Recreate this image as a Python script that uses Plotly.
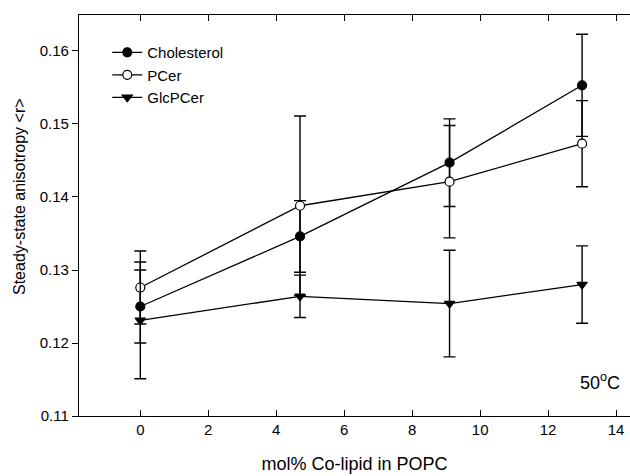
import plotly.graph_objects as go

# ---- data ----
x_vals = [0, 4.7, 9.1, 13]

chol_y = [0.1250, 0.1346, 0.1447, 0.1553]
chol_err = [0.0050, 0.0049, 0.0060, 0.0070]

pcer_y = [0.1276, 0.1388, 0.1421, 0.1473]
pcer_err = [0.0050, 0.0123, 0.0077, 0.0059]

glc_y = [0.1231, 0.1264, 0.1254, 0.1280]
glc_err = [0.0080, 0.0029, 0.0073, 0.0053]

x_ticks = [0, 2, 4, 6, 8, 10, 12, 14]
y_ticks = [0.11, 0.12, 0.13, 0.14, 0.15, 0.16]

FONT = "Liberation Sans, Arial, sans-serif"
LW = 1.3

def series(name, y, err, symbol, fill):
    return go.Scatter(
        x=x_vals, y=y, name=name, mode="lines+markers",
        line=dict(color="black", width=LW),
        marker=dict(symbol=symbol, size=9, color=fill,
                    line=dict(color="black", width=1.2)),
        error_y=dict(type="data", array=err, visible=True,
                     color="black", thickness=1.4, width=6),
    )

fig = go.Figure()
fig.add_trace(series("Cholesterol", chol_y, chol_err, "circle", "black"))
fig.add_trace(series("PCer", pcer_y, pcer_err, "circle", "white"))
fig.add_trace(series("GlcPCer", glc_y, glc_err, "triangle-down", "black"))

fig.update_layout(
    width=630, height=476,
    margin=dict(l=79, r=0, t=15, b=60),
    paper_bgcolor="white", plot_bgcolor="white",
    font=dict(family=FONT, size=15, color="black"),
    showlegend=True,
    legend=dict(x=0.0513, y=0.9475, xanchor="left", yanchor="top",
                bgcolor="rgba(0,0,0,0)", font=dict(size=15),
                tracegroupgap=0),
    xaxis=dict(range=[-1.804, 14.41], tickvals=x_ticks,
               ticks="inside", ticklen=6, tickwidth=1.2, tickcolor="black",
               showline=True, linecolor="black", linewidth=1.3,
               mirror="ticks", showgrid=False, zeroline=False,
               tickfont=dict(size=15),
               title=dict(text="mol% Co-lipid in POPC",
                          font=dict(size=18), standoff=20)),
    yaxis=dict(range=[0.11, 0.16493], tickvals=y_ticks,
               tickformat=".2f",
               ticks="outside", ticklen=6, tickwidth=1.2, tickcolor="black",
               showline=True, linecolor="black", linewidth=1.3,
               mirror=False, showgrid=False, zeroline=False,
               tickfont=dict(size=15)),
    annotations=[
        dict(text="Steady-state anisotropy &lt;r&gt;", xref="paper", yref="paper",
             x=-0.1089, y=0.5486, xanchor="center", yanchor="middle",
             textangle=-90, showarrow=False, font=dict(size=16)),
        dict(text="50<sup>o</sup>C", xref="paper", yref="paper",
             x=0.9855, y=0.0848, xanchor="right", yanchor="middle",
             showarrow=False, font=dict(size=18)),
    ],
)

fig.write_html("out.html")
